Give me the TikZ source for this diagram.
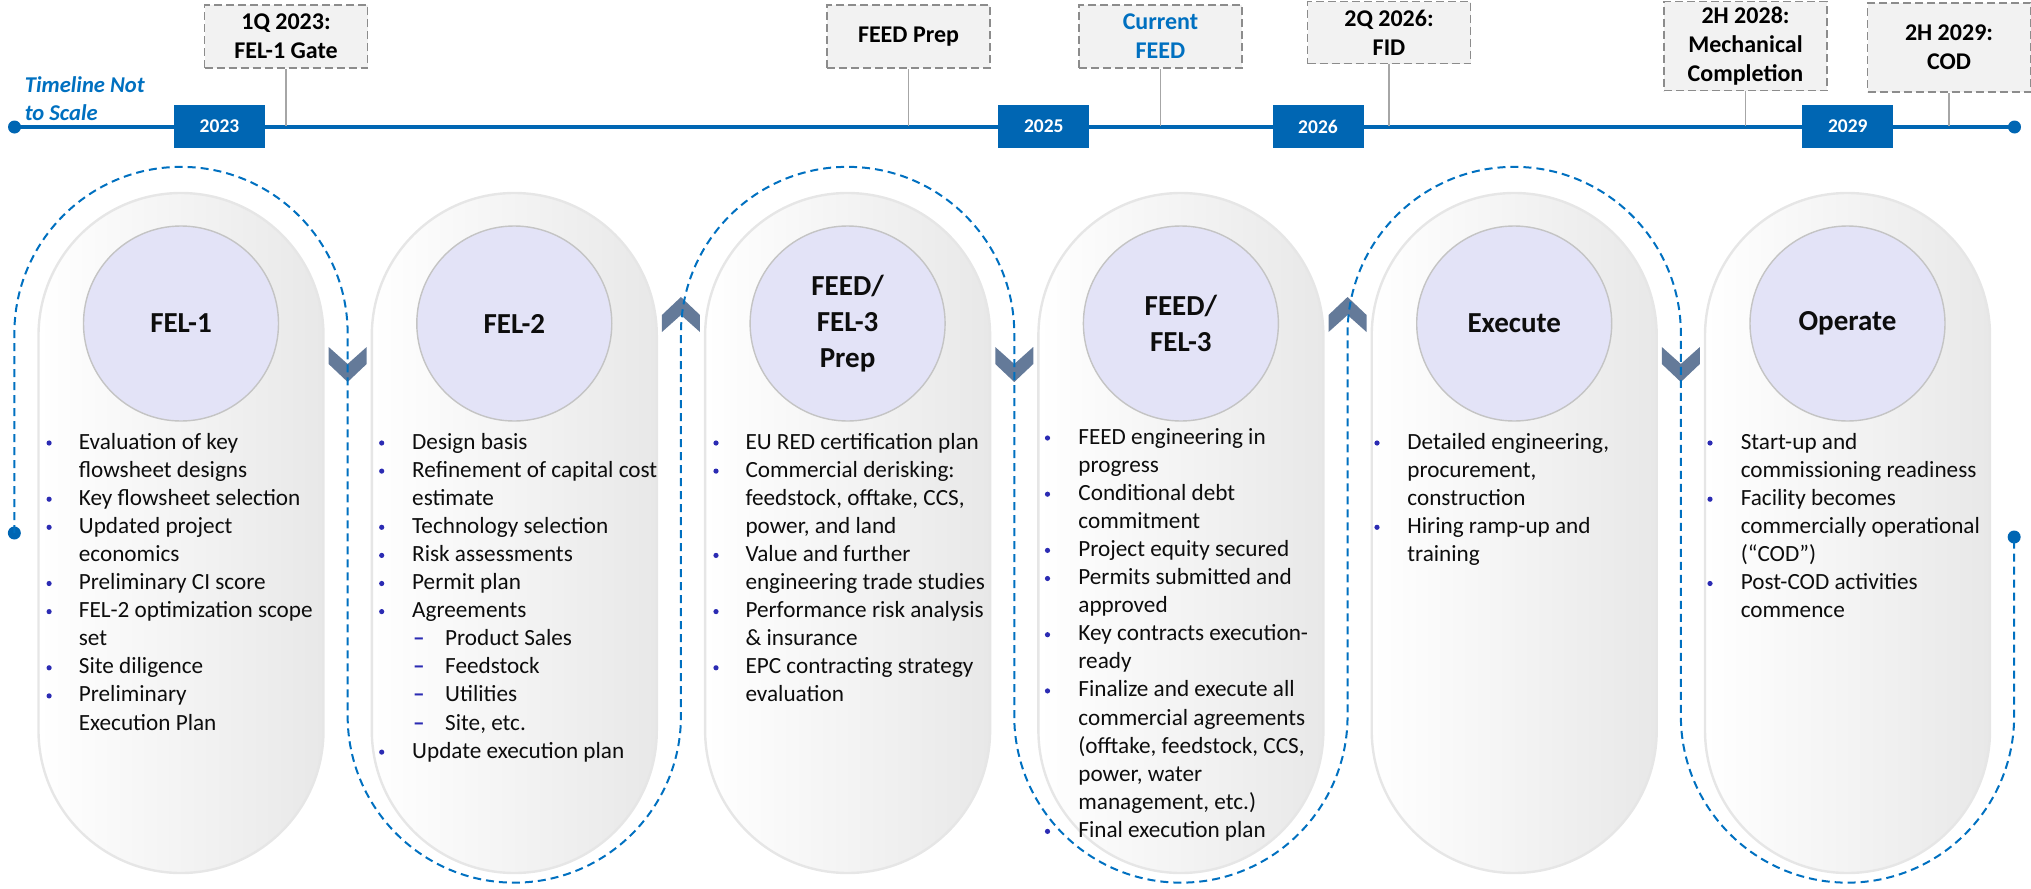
\documentclass[tikz,border=0pt]{standalone}
\usepackage{fontspec}
\setmainfont{Carlito}
\definecolor{tlblue}{HTML}{0066B3}
\definecolor{dashblue}{HTML}{0070C0}
\definecolor{curblue}{HTML}{0070C0}
\definecolor{calfill}{HTML}{F2F2F2}
\definecolor{calborder}{HTML}{8C8C8C}
\definecolor{congray}{HTML}{A6A6A6}
\definecolor{circfill}{HTML}{E3E3F7}
\definecolor{circline}{HTML}{C4C4C4}
\definecolor{pillgray}{HTML}{E8E8E8}
\definecolor{pillline}{HTML}{E6E6E6}
\definecolor{chevcol}{HTML}{647A99}
\definecolor{bulblue}{HTML}{2B2BB3}
\definecolor{bodytext}{HTML}{0D0D0D}
\tikzset{
  pill/.style={draw=pillline, line width=1.2pt, left color=white, right color=pillgray,
    minimum width=142.5pt, minimum height=340pt, rounded corners=71.25pt, inner sep=0pt},
  circ/.style={circle, draw=circline, line width=0.7pt, fill=circfill, minimum size=97.5pt,
    inner sep=0pt, align=center, text=bodytext, font=\bfseries\fontsize{14.5}{18}\selectfont},
  bodyline/.style={anchor=base west, inner sep=0pt, text=bodytext, font=\fontsize{11.6}{14}\selectfont},
  bulmark/.style={anchor=base west, inner sep=0pt, text=bulblue, font=\bfseries\fontsize{11.6}{14}\selectfont},
  buldot/.style={circle, fill=bulblue, minimum size=2.6pt, inner sep=0pt},
  chev/.style={fill=chevcol},
  dashpath/.style={draw=dashblue, line width=1pt, dash pattern=on 4pt off 2.5pt},
  tline/.style={draw=tlblue, line width=1.9pt},
  enddot/.style={circle, fill=tlblue, minimum size=6.5pt, inner sep=0pt},
  yearbox/.style={fill=tlblue, text=white, font=\bfseries\fontsize{9.75}{11}\selectfont,
    minimum width=45.5pt, minimum height=21.5pt, inner sep=0pt},
  callout/.style={draw=calborder, dash pattern=on 4pt off 2pt, line width=0.75pt, fill=calfill,
    minimum width=81.5pt, inner sep=0pt, align=center, text=black,
    font=\bfseries\fontsize{12}{14.5}\selectfont},
  conn/.style={draw=congray, line width=0.65pt},
  tlnote/.style={anchor=west, align=left, inner sep=0pt, text=curblue,
    font=\bfseries\itshape\fontsize{11.3}{14}\selectfont}
}
% #1 name prefix, #2 bullet centre x, #3 text x, #4 first baseline, #5 list kind/text
\newcommand{\pilltext}[5]{%
  \foreach \kind/\txt [count=\i] in {#5} {
    \pgfmathsetmacro{\yy}{#4+(\i-1)*28.1}
    \ifcase\kind\relax
    \or
      \node[buldot] (#1b\i) at (#2,\yy-6) {};
      \node[bodyline] (#1t\i) at (#3,\yy) {\txt};
    \or
      \node[bodyline] (#1t\i) at (#3,\yy) {\txt};
    \or
      \node[bulmark] (#1b\i) at (#3+1,\yy) {–};
      \node[bodyline] (#1t\i) at (#3+33,\yy) {\txt};
    \fi
  }
}
\newcommand{\chevdown}[1]{\fill[chev] (#1-19,347) -- (#1,364) -- (#1+19,347) -- (#1+19,364) -- (#1,382) -- (#1-19,364) -- cycle;}
\newcommand{\chevup}[1]{\fill[chev] (#1-19,332) -- (#1,315) -- (#1+19,332) -- (#1+19,315) -- (#1,297) -- (#1-19,315) -- cycle;}
\begin{document}
\begin{tikzpicture}[x=0.5pt,y=-0.5pt]
\useasboundingbox (0,0) rectangle (2031,889);
% pills
\foreach \i/\cx in {1/181,2/514.3,3/847.6,4/1180.9,5/1514.2,6/1847.5}{
  \node[pill] (p\i) at (\cx,533) {};
}
% circles with titles
\node[circ] (c1) at (181,323.5) {FEL-1};
\node[circ] (c2) at (514.3,323.5) {FEL-2};
\node[circ] (c3) at (847.6,323.5) {FEED/\\FEL-3\\Prep};
\node[circ] (c4) at (1180.9,323.5) {FEED/\\FEL-3};
\node[circ] (c5) at (1514.2,323.5) {Execute};
\node[circ] (c6) at (1847.5,323.5) {Operate};
% texts
\pilltext{a}{49.1}{78.5}{449}{1/Evaluation of key, 2/flowsheet designs, 1/Key flowsheet selection,
  1/Updated project, 2/economics, 1/Preliminary CI score, 1/FEL-2 optimization scope, 2/set,
  1/Site diligence, 1/Preliminary, 2/Execution Plan}
\pilltext{b}{381.7}{411.8}{449}{1/Design basis, 1/Refinement of capital cost, 2/estimate,
  1/Technology selection, 1/Risk assessments, 1/Permit plan, 1/Agreements, 3/Product Sales,
  3/Feedstock, 3/Utilities, 3/{Site, etc.}, 1/Update execution plan}
\pilltext{c}{716}{745.1}{449}{1/EU RED certification plan, 1/Commercial derisking:,
  2/{feedstock, offtake, CCS,}, 2/{power, and land}, 1/Value and further,
  2/engineering trade studies, 1/Performance risk analysis, 2/\& insurance,
  1/EPC contracting strategy, 2/evaluation}
\pilltext{d}{1047.5}{1078}{444}{1/FEED engineering in, 2/progress, 1/Conditional debt,
  2/commitment, 1/Project equity secured, 1/Permits submitted and, 2/approved,
  1/Key contracts execution-, 2/ready, 1/Finalize and execute all, 2/commercial agreements,
  2/{(offtake, feedstock, CCS,}, 2/{power, water}, 2/{management, etc.)}, 1/Final execution plan}
\pilltext{e}{1377}{1407}{449}{1/{Detailed engineering,}, 2/{procurement,}, 2/construction,
  1/Hiring ramp-up and, 2/training}
\pilltext{f}{1710}{1740.4}{449}{1/Start-up and, 2/commissioning readiness, 1/Facility becomes,
  2/commercially operational, 2/(“COD”), 1/Post-COD activities, 2/commence}
% chevrons
\chevdown{347.65}
\chevup{680.95}
\chevdown{1014.25}
\chevup{1347.55}
\chevdown{1680.85}
% serpentine dashed path
\node[enddot] (d1) at (14.35,533) {};
\node[enddot] (d2) at (2014.15,537) {};
\draw[dashpath] (d1.center) -- (14.35,333.5)
  arc[start angle=180, end angle=360, radius=166.65] -- (347.65,716)
  arc[start angle=180, end angle=0, radius=166.65] -- (680.95,333.5)
  arc[start angle=180, end angle=360, radius=166.65] -- (1014.25,716)
  arc[start angle=180, end angle=0, radius=166.65] -- (1347.55,333.5)
  arc[start angle=180, end angle=360, radius=166.65] -- (1680.85,716)
  arc[start angle=180, end angle=0, radius=166.65] -- (d2.center);
% timeline
\node[enddot] (t0) at (14.5,127) {};
\node[enddot] (t1) at (2014.5,127) {};
\draw[tline] (t0.center) -- (t1.center);
\node[tlnote] (note) at (24.5,99) {Timeline Not\\to Scale};
\node[yearbox] (y23) at (219.5,126.5) {2023};
\node[yearbox] (y25) at (1043.8,126.5) {2025};
\node[yearbox] (y26) at (1318,126.5) {2026};
\node[yearbox] (y29) at (1847.8,126.5) {2029};
% callouts
\coordinate (k1) at (286,126);
\coordinate (k2) at (908.5,126);
\coordinate (k3) at (1160.5,126);
\coordinate (k4) at (1389,126);
\coordinate (k5) at (1745.5,126);
\coordinate (k6) at (1949,126);
\node[callout, minimum height=31.5pt] (co1) at (286,36.5) {1Q 2023:\\FEL-1 Gate};
\node[callout, minimum height=31.5pt] (co2) at (908.5,36.5) {FEED Prep};
\node[callout, minimum height=31.5pt, text=curblue] (co3) at (1160.5,36.5) {Current\\FEED};
\node[callout, minimum height=31pt] (co4) at (1389,32.5) {2Q 2026:\\FID};
\node[callout, minimum height=44.5pt] (co5) at (1745.5,46) {2H 2028:\\Mechanical\\Completion};
\node[callout, minimum height=44.5pt] (co6) at (1949,47.5) {2H 2029:\\COD};
\draw[conn] (co1.south) -- (k1);
\draw[conn] (co2.south) -- (k2);
\draw[conn] (co3.south) -- (k3);
\draw[conn] (co4.south) -- (k4);
\draw[conn] (co5.south) -- (k5);
\draw[conn] (co6.south) -- (k6);
\end{tikzpicture}
\end{document}
